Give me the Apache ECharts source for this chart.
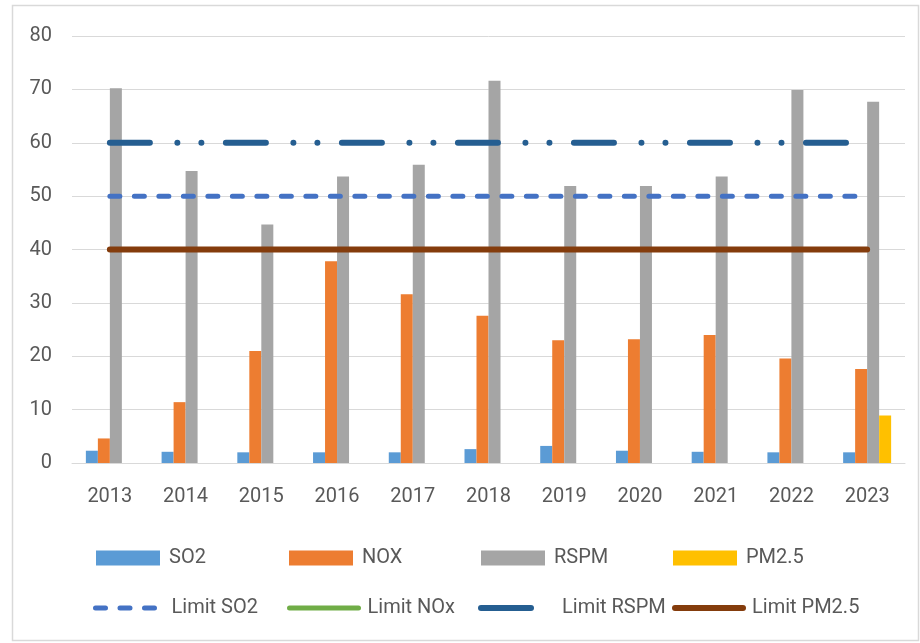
<!DOCTYPE html>
<html>
<head>
<meta charset="utf-8">
<script src="https://cdn.jsdelivr.net/npm/echarts@6/dist/echarts.min.js"></script>
<style>
  html, body { margin: 0; padding: 0; background: #fff; }
  #chart { width: 920px; height: 643px; }
</style>
</head>
<body>
<div id="chart"></div>
<script>
// Annual pollutant concentrations with their permissible limits
const years = ['2013', '2014', '2015', '2016', '2017', '2018', '2019', '2020', '2021', '2022', '2023'];
const so2   = [2.3, 2.1, 2.0, 2.0, 2.0, 2.6, 3.2, 2.3, 2.1, 2.0, 2.0];
const nox   = [4.6, 11.4, 21.0, 37.8, 31.6, 27.6, 23.0, 23.2, 24.0, 19.6, 17.6];
const rspm  = [70.2, 54.7, 44.7, 53.7, 55.9, 71.6, 51.9, 51.9, 53.7, 69.9, 67.7];
const pm25  = [null, null, null, null, null, null, null, null, null, null, 8.9];
const limitSO2  = [50, 50, 50, 50, 50, 50, 50, 50, 50, 50, 50];
const limitNOx  = [40, 40, 40, 40, 40, 40, 40, 40, 40, 40, 40];
const limitRSPM = [60, 60, 60, 60, 60, 60, 60, 60, 60, 60, 60];
const limitPM25 = [40, 40, 40, 40, 40, 40, 40, 40, 40, 40, 40];
const yTicks = { min: 0, max: 80, interval: 10 };

const FONT = 'Roboto, "Liberation Sans", sans-serif';
const TEXT = '#595959';

const STYLE = {
  'SO2':         { color: '#5B9BD5' },
  'NOX':         { color: '#ED7D31' },
  'RSPM':        { color: '#A5A5A5' },
  'PM2.5':       { color: '#FFC000' },
  'Limit SO2':   { color: '#4472C4', width: 5, type: [10, 14.5] },
  'Limit NOx':   { color: '#70AD47', width: 5, type: 'solid' },
  'Limit RSPM':  { color: '#255E91', width: 6, type: [40, 27.5, 0.01, 24, 0.01, 24.5] },
  'Limit PM2.5': { color: '#843C0C', width: 6, type: 'solid' }
};

function bar(name, data) {
  return {
    name, type: 'bar', data,
    barWidth: 12, barGap: '0%',
    itemStyle: { color: STYLE[name].color },
    emphasis: { disabled: true }
  };
}
function limit(name, data, z) {
  const s = STYLE[name];
  return {
    name, type: 'line', data,
    symbol: 'none', z,
    lineStyle: { color: s.color, width: s.width, type: s.type, cap: 'round' },
    itemStyle: { color: s.color },
    emphasis: { disabled: true }
  };
}

// one legend component per entry so the entries sit in fixed columns
const legendSlots = [
  { name: 'SO2',         left: 96,  top: 548 },
  { name: 'NOX',         left: 289, top: 548 },
  { name: 'RSPM',        left: 481, top: 548 },
  { name: 'PM2.5',       left: 673, top: 548 },
  { name: 'Limit SO2',   left: 93,  top: 598, w: 67 },
  { name: 'Limit NOx',   left: 287, top: 598, w: 69 },
  { name: 'Limit RSPM',  left: 478, top: 598, w: 50, gap: 26 },
  { name: 'Limit PM2.5', left: 672, top: 598, w: 68 }
];
const legends = legendSlots.map(slot => {
  const s = STYLE[slot.name];
  const isLine = s.width !== undefined;
  const item = { name: slot.name };
  if (isLine) {
    item.itemStyle = { opacity: 0 };
    item.lineStyle = { color: s.color, width: s.width, type: slot.name === 'Limit RSPM' ? 'solid' : s.type, cap: 'round' };
  } else {
    item.icon = 'rect';
  }
  return {
    data: [item],
    left: slot.left, top: slot.top,
    padding: 0,
    itemWidth: isLine ? slot.w : 64,
    itemHeight: isLine ? 18 : 15,
    selectedMode: false,
    textStyle: {
      color: TEXT, fontFamily: FONT, fontSize: 20,
      padding: [0, 0, 0, slot.gap || 4]
    }
  };
});

const chart = echarts.init(document.getElementById('chart'), null, { renderer: 'canvas' });
chart.setOption({
  animation: false,
  backgroundColor: '#ffffff',
  graphic: [{
    type: 'rect', left: 10, top: 3, silent: true,
    shape: { width: 906, height: 635 },
    style: { fill: 'none', stroke: '#d9d9d9', lineWidth: 1.5 }
  }],
  grid: { left: 72, right: 15, top: 36, bottom: 180 },
  xAxis: {
    type: 'category', data: years,
    axisLine: { lineStyle: { color: '#d9d9d9', width: 1 } },
    axisTick: { show: false },
    axisLabel: { color: TEXT, fontFamily: FONT, fontSize: 20, margin: 24 }
  },
  yAxis: {
    type: 'value', min: yTicks.min, max: yTicks.max, interval: yTicks.interval,
    axisLine: { show: false }, axisTick: { show: false },
    splitLine: { lineStyle: { color: '#d9d9d9', width: 1 } },
    axisLabel: { color: TEXT, fontFamily: FONT, fontSize: 20, margin: 20 }
  },
  legend: legends,
  series: [
    bar('SO2', so2),
    bar('NOX', nox),
    bar('RSPM', rspm),
    bar('PM2.5', pm25),
    limit('Limit SO2', limitSO2, 3),
    limit('Limit NOx', limitNOx, 3),
    limit('Limit RSPM', limitRSPM, 4),
    limit('Limit PM2.5', limitPM25, 5)
  ]
});
</script>
</body>
</html>
